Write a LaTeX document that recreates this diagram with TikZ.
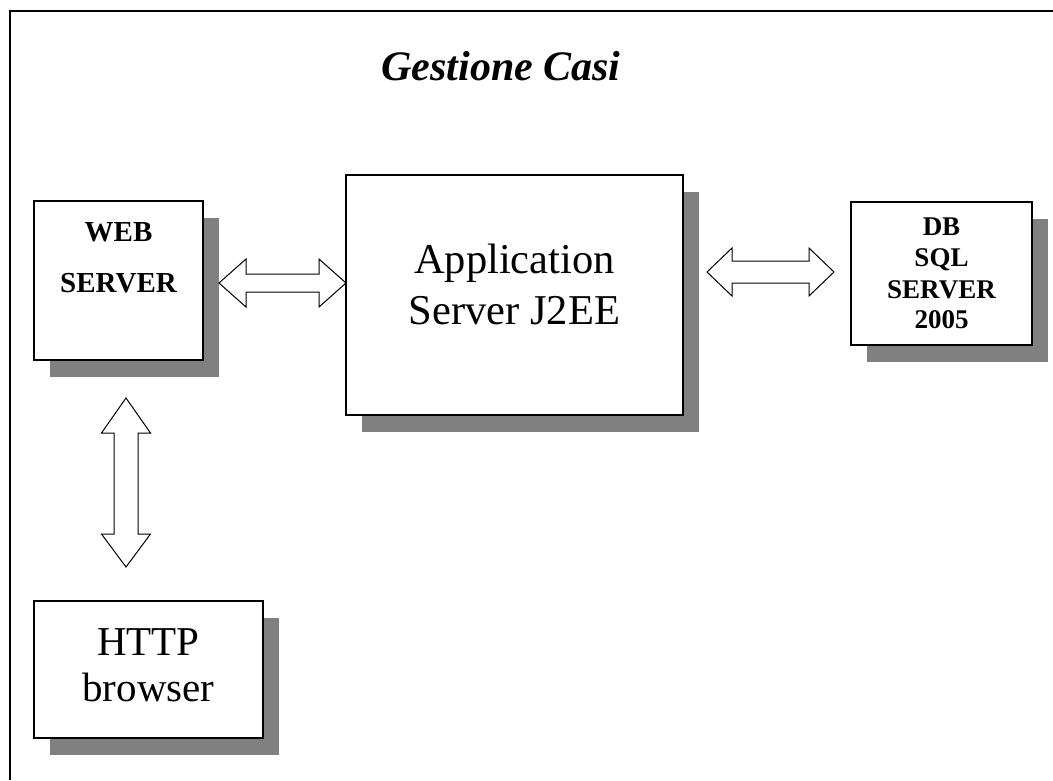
\documentclass[tikz,border=0pt]{standalone}
\usepackage{fontspec}
\setmainfont{Liberation Serif}
\usetikzlibrary{calc,shadows}
\definecolor{shadowgray}{RGB}{128,128,128}
\tikzset{
  box/.style={draw=black, line width=2pt, fill=white, inner sep=0pt, outer sep=0pt,
    drop shadow={shadow xshift=16pt, shadow yshift=-17pt, fill=shadowgray, opacity=1}},
  barrow/.style={draw=black, line width=1pt, fill=white, line join=miter},
  lbl/.style={anchor=base, inner sep=0pt},
}
\newcommand{\fs}[1]{\fontsize{#1}{#1}\selectfont}
\begin{document}
\begin{tikzpicture}[x=1pt,y=-1pt]
\useasboundingbox (0,0) rectangle (1053,780);
% frame (only top and left visible)
\draw[line width=2pt] (10,780) -- (10,11) -- (1053,11);
% title
\node[lbl, font=\fs{42}\bfseries\itshape] (title) at (501,80) {Gestione Casi};
% boxes
\node[box, minimum width=169pt, minimum height=159pt] (web) at (118.5,280.5) {};
\node[box, minimum width=337pt, minimum height=240pt] (app) at (514.5,295) {};
\node[box, minimum width=181pt, minimum height=143pt] (db) at (941.5,273.5) {};
\node[box, minimum width=229pt, minimum height=137pt] (http) at (148.5,669.5) {};
% texts
\node[lbl, font=\fs{29}\bfseries] (webt1) at ($(web.north)+(0,40)$) {WEB};
\node[lbl, font=\fs{29}\bfseries] (webt2) at ($(web.north)+(0,91)$) {SERVER};
\node[lbl, font=\fs{42.5}] (appt1) at ($(app.north)+(0,98)$) {Application};
\node[lbl, font=\fs{42.5}] (appt2) at ($(app.north)+(0,149)$) {Server J2EE};
\node[lbl, font=\fs{27}\bfseries] (dbt1) at ($(db.north)+(0,33)$) {DB};
\node[lbl, font=\fs{27}\bfseries] (dbt2) at ($(db.north)+(0,64)$) {SQL};
\node[lbl, font=\fs{27}\bfseries] (dbt3) at ($(db.north)+(0,96)$) {SERVER};
\node[lbl, font=\fs{27}\bfseries] (dbt4) at ($(db.north)+(0,126)$) {2005};
\node[lbl, font=\fs{41}] (httpt1) at ($(http.north)+(0,54)$) {HTTP};
\node[lbl, font=\fs{41}] (httpt2) at ($(http.north)+(0,100)$) {browser};
% connector end points
\coordinate (a1s) at ($(web.east)+(16,2.5)$);
\coordinate (a1e) at (a1s -| app.west);
\coordinate (a2e) at ($(db.west)+(-17,-1.5)$);
\coordinate (a2s) at ($(app.east |- a2e)+(24,0)$);
\coordinate (a3s) at ($(web.south)+(7.5,38)$);
\coordinate (a3e) at ($(a3s |- http.north)+(0,-34)$);
% web <-> app
\draw[barrow] (a1s) -- ++(27,-24) -- ++(0,15) -- ($(a1e)+(-27,-9)$) -- ++(0,-15) -- (a1e)
  -- ++(-27,24) -- ++(0,-15) -- ($(a1s)+(27,9)$) -- ++(0,15) -- cycle;
% app <-> db
\draw[barrow] (a2s) -- ++(25,-24) -- ++(0,13) -- ($(a2e)+(-25,-11)$) -- ++(0,-13) -- (a2e)
  -- ++(-25,24) -- ++(0,-13) -- ($(a2s)+(25,11)$) -- ++(0,13) -- cycle;
% web <-> http
\draw[barrow] (a3s) -- ++(24.5,35) -- ++(-12.5,0) -- ($(a3e)+(12,-33)$) -- ++(12.5,0) -- (a3e)
  -- ++(-24.5,-33) -- ++(12.5,0) -- ($(a3s)+(-12,35)$) -- ++(-12.5,0) -- cycle;
\end{tikzpicture}
\end{document}
